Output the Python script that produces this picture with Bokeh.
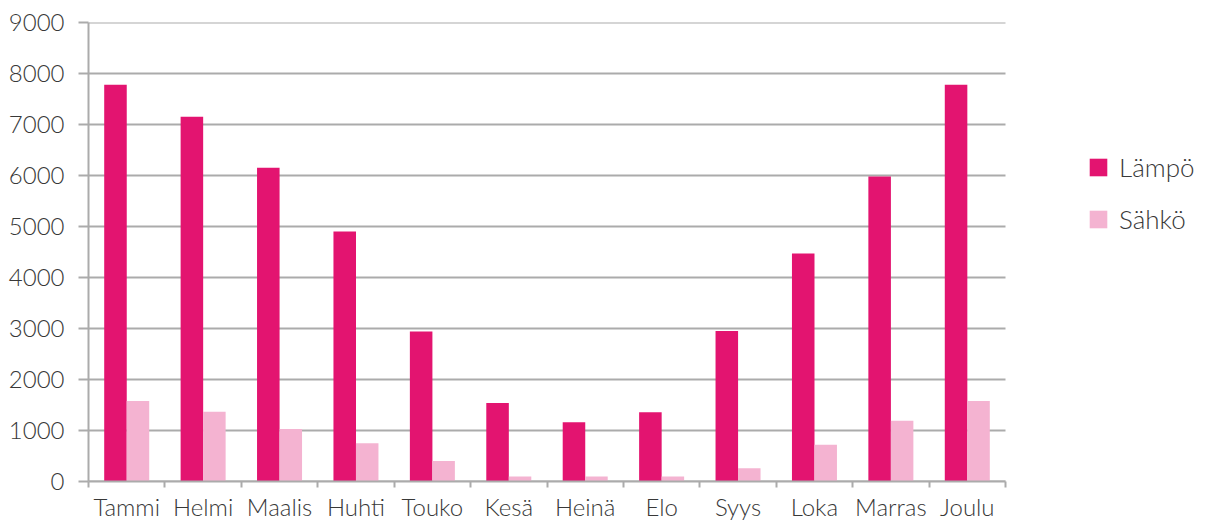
from bokeh.plotting import figure
from bokeh.models import (ColumnDataSource, FixedTicker, Legend, LegendItem, Range1d)
from bokeh.transform import dodge
from bokeh.embed import file_html
from bokeh.resources import INLINE

months = ["Tammi", "Helmi", "Maalis", "Huhti", "Touko", "Kesä", "Heinä", "Elo", "Syys", "Loka", "Marras", "Joulu"]
lampo = [7780, 7150, 6150, 4900, 2940, 1540, 1160, 1360, 2950, 4470, 5980, 7780]
sahko = [1580, 1370, 1030, 750, 400, 100, 100, 100, 260, 720, 1190, 1580]
y_ticks = [0, 1000, 2000, 3000, 4000, 5000, 6000, 7000, 8000, 9000]

FONT = "Lato Light"
TXT = "#383838"
GRID = "#ababab"
C1 = "#e31470"
C2 = "#f4b3d1"

W, H = 1205, 524
LEFT, TOP, BOTTOM = 88, 22, 43
PLOT_W = 917  # pixel width of the category area
n = len(months)
x_max = n * (W - LEFT) / PLOT_W  # frame extends right to hold the legend

xc = [i + 0.5 for i in range(n)]
src = ColumnDataSource(dict(x=xc, lampo=lampo, sahko=sahko))
grid_src = ColumnDataSource(dict(y=y_ticks, x0=[0] * len(y_ticks), x1=[n] * len(y_ticks)))

p = figure(width=W, height=H, output_backend="svg", toolbar_location=None,
           x_range=Range1d(0, x_max), y_range=Range1d(0, 9000),
           min_border_left=LEFT, min_border_right=0, min_border_top=TOP, min_border_bottom=BOTTOM)
p.outline_line_color = None
p.background_fill_color = "white"

p.segment(x0="x0", x1="x1", y0="y", y1="y", source=grid_src, line_color=GRID, line_width=2)

r1 = p.vbar(x=dodge("x", -0.147, range=p.x_range), top="lampo", width=0.295, source=src,
            fill_color=C1, line_color=None)
r2 = p.vbar(x=dodge("x", 0.147, range=p.x_range), top="sahko", width=0.295, source=src,
            fill_color=C2, line_color=None)

# x axis
p.xaxis.bounds = (0, n)
p.xaxis.ticker = FixedTicker(ticks=xc, minor_ticks=list(range(n + 1)))
p.xaxis.major_label_overrides = {x: m for x, m in zip(xc, months)}
p.xaxis.major_tick_out = 0
p.xaxis.major_tick_in = 0
p.xaxis.minor_tick_out = 6
p.xaxis.minor_tick_in = 0
p.xaxis.minor_tick_line_color = GRID
p.xaxis.minor_tick_line_width = 2
p.xaxis.axis_line_color = GRID
p.xaxis.axis_line_width = 2
p.xaxis.major_label_standoff = 4
p.xaxis.major_label_text_font = FONT
p.xaxis.major_label_text_font_size = "24px"
p.xaxis.major_label_text_color = TXT
p.xgrid.grid_line_color = None

# y axis
p.yaxis.ticker = FixedTicker(ticks=y_ticks)
p.yaxis.major_tick_out = 10
p.yaxis.major_tick_in = 0
p.yaxis.minor_tick_line_color = None
p.yaxis.major_tick_line_color = GRID
p.yaxis.major_tick_line_width = 2
p.yaxis.axis_line_color = GRID
p.yaxis.axis_line_width = 2
p.yaxis.major_label_standoff = 14
p.yaxis.major_label_text_font = FONT
p.yaxis.major_label_text_font_size = "24px"
p.yaxis.major_label_text_color = TXT
p.ygrid.grid_line_color = None

legend = Legend(items=[LegendItem(label="Lämpö", renderers=[r1]),
                       LegendItem(label="Sähkö", renderers=[r2])],
                location=(999, 246))
legend.padding = 0
legend.margin = 0
legend.spacing = 20
legend.glyph_width = 22
legend.glyph_height = 22
legend.label_standoff = 10
legend.label_height = 22
legend.label_text_font = FONT
legend.label_text_font_size = "26px"
legend.label_text_color = TXT
legend.border_line_color = None
legend.background_fill_alpha = 0
p.add_layout(legend, "center")

open("out.html", "w").write(file_html(p, INLINE))
